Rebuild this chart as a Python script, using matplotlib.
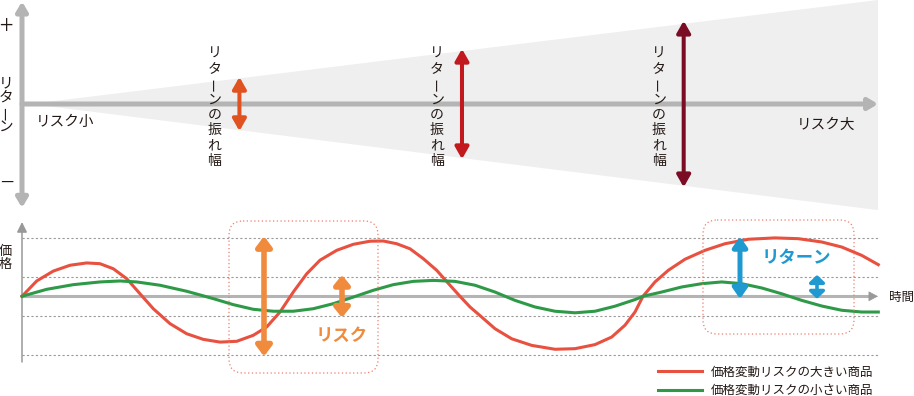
import matplotlib
matplotlib.use("Agg")
import matplotlib.pyplot as plt
from matplotlib.patches import FancyBboxPatch

plt.rcParams['font.family'] = ['Noto Sans CJK JP', 'DejaVu Sans']

# ---- top panel: risk vs. swing of return ----
risk_levels = [0.254, 0.514, 0.773]
return_swing = [0.26, 0.53, 0.80]
swing_colors = ['#e0521f', '#c1191d', '#7a0c24']
swing_label = 'リターンの振れ幅'

# ---- bottom panel: price over time ----
red_t = [0, 14.7, 31.3, 48, 64.7, 78, 91.3, 104.7, 118, 131.3, 148, 164.7,
         181.3, 198, 214.7, 231.3, 244.7, 258, 271.3, 284.7, 298, 314.7,
         331.3, 348, 361.3, 374.7, 388, 401.3, 414.7, 428, 438, 448, 459.7,
         473, 489.7, 509.7, 533, 553, 573, 589.7, 603, 613, 621, 633, 646.3,
         663, 683, 703, 726.3, 753, 776.3, 799.7, 819.7, 839.7, 856.3]
red_p = [0, 0.79, 1.30, 1.60, 1.72, 1.68, 1.42, 0.91, 0.13, -0.64, -1.41,
         -1.93, -2.22, -2.36, -2.32, -2.01, -1.58, -0.81, 0.22, 1.16, 1.86,
         2.37, 2.68, 2.84, 2.85, 2.71, 2.45, 1.94, 1.34, 0.57, 0.0, -0.55,
         -1.07, -1.67, -2.19, -2.53, -2.73, -2.70, -2.49, -2.10, -1.49, -0.81,
         0.0, 0.74, 1.34, 1.91, 2.37, 2.71, 2.94, 3.01, 2.97, 2.80, 2.54,
         2.11, 1.63]
green_t = [0, 24.7, 51.3, 78, 98, 114.7, 138, 164.7, 191.3, 211.3, 231.3,
           251.3, 271.3, 291.3, 311.3, 331.3, 351.3, 371.3, 391.3, 411.3, 433,
           453, 473, 493, 513, 533, 553, 573, 593, 613, 621, 639.7, 659.7,
           679.7, 699.7, 719.7, 739.7, 759.7, 779.7, 799.7, 819.7, 839.7,
           856.3]
green_p = [0, 0.36, 0.60, 0.74, 0.79, 0.74, 0.57, 0.26, -0.12, -0.43, -0.67,
           -0.77, -0.77, -0.64, -0.38, -0.04, 0.31, 0.60, 0.77, 0.82, 0.77,
           0.57, 0.22, -0.21, -0.55, -0.77, -0.85, -0.77, -0.51, -0.17, 0.0,
           0.22, 0.48, 0.65, 0.74, 0.65, 0.43, 0.13, -0.21, -0.50, -0.72,
           -0.81, -0.81]
grid_levels = [-3, -1, 1, 3]
legend_labels = ['価格変動リスクの大きい商品', '価格変動リスクの小さい商品']

# risk arrows (time, low, high) and return arrows (time, low, high)
risk_arrows = [(242, -3.1, 3.1), (320, -1.1, 1.1)]
return_arrows = [(718, -0.13, 3.08), (795, -0.13, 1.1)]

RED = '#e8503f'
GREEN = '#2e9a47'
ORANGE = '#f08a3d'
BLUE = '#1f9ad1'
AXIS_GRAY = '#b4b4b4'
TEXT = '#231815'

# layout in pixels
W, H = 914, 396
X0, X1 = 22, 878
TOP_Y = 104
TOP_UNIT = 104
BOT_Y = 296.3
BOT_UNIT = 19.4

fig = plt.figure(figsize=(W / 100, H / 100), dpi=100)

ax_top = fig.add_axes([0, 0, 1, 1])
ax_top.set_xlim(-X0 / (X1 - X0), (W - X0) / (X1 - X0))
ax_top.set_ylim(-(H - TOP_Y) / TOP_UNIT, TOP_Y / TOP_UNIT)
ax_top.axis('off')

ax_bot = fig.add_axes([0, 0, 1, 1])
ax_bot.set_xlim(-X0, W - X0)
ax_bot.set_ylim(-(H - BOT_Y) / BOT_UNIT, BOT_Y / BOT_UNIT)
ax_bot.axis('off')
ax_bot.patch.set_visible(False)

ax_px = fig.add_axes([0, 0, 1, 1])
ax_px.set_xlim(0, W)
ax_px.set_ylim(H, 0)
ax_px.axis('off')
ax_px.patch.set_visible(False)


def double_arrow(ax, x, y0, y1, color, lw, hl, hw, style='<|-|>', z=5):
    ax.annotate('', xy=(x, y1), xytext=(x, y0),
                arrowprops=dict(arrowstyle=f'{style},head_length={hl},head_width={hw}',
                                color=color, lw=lw, shrinkA=0, shrinkB=0,
                                mutation_scale=10),
                zorder=z)


def vertical_text(ax, x, y_first, step, s, **kw):
    for i, ch in enumerate(s):
        ax.text(x, y_first + i * step, ch, ha='center', va='center',
                rotation=90 if ch == 'ー' else 0, **kw)


# ---------------- top panel ----------------
ax_top.fill([0.01, 1, 1], [0, 1, -1.02], color='#efefef', lw=0, zorder=1)
double_arrow(ax_top, 0, -0.998, 0.985, AXIS_GRAY, 3.6, 0.55, 0.33, z=2)
ax_top.annotate('', xy=(1.0, 0), xytext=(0, 0),
                arrowprops=dict(arrowstyle='-|>,head_length=0.55,head_width=0.33',
                                color=AXIS_GRAY, lw=3.6, shrinkA=0, shrinkB=0,
                                mutation_scale=10), zorder=2)
for r, sw, c in zip(risk_levels, return_swing, swing_colors):
    double_arrow(ax_top, r, -sw, sw, c, 2.9, 0.7, 0.4)
    vertical_text(ax_px, X0 + (X1 - X0) * r - 25, 53.5, 15.36, swing_label,
                  fontsize=10, color=TEXT, zorder=6)

ax_px.text(36, 122, 'リスク小', ha='left', va='center', fontsize=10.5, color=TEXT)
ax_px.text(797, 125, 'リスク大', ha='left', va='center', fontsize=10.5, color=TEXT)
ax_px.text(6, 27, '+', ha='center', va='center', fontsize=18, color=TEXT,
           fontweight='light')
ax_px.text(7, 184, '−', ha='center', va='center', fontsize=18, color=TEXT,
           fontweight='light')
vertical_text(ax_px, 6, 83, 14.7, 'リターン', fontsize=10.5, color=TEXT)

# ---------------- bottom panel ----------------
ax_bot.hlines(grid_levels, 0, X1 - X0, colors='#9a9a9a', lw=0.8,
              linestyles=(0, (2, 2)), zorder=1)
ax_bot.plot([0, X1 - X0 - 8], [0, 0], color=AXIS_GRAY, lw=2.2, zorder=2,
            solid_capstyle='butt')
ax_bot.annotate('', xy=(X1 - X0, 0), xytext=(X1 - X0 - 9, 0),
                arrowprops=dict(arrowstyle='-|>,head_length=0.6,head_width=0.32',
                                color='#999999', lw=0.5, shrinkA=0, shrinkB=0,
                                mutation_scale=10), zorder=2)
ax_bot.annotate('', xy=(0, (BOT_Y - 222) / BOT_UNIT), xytext=(0, -(362 - BOT_Y) / BOT_UNIT),
                arrowprops=dict(arrowstyle='-|>,head_length=0.6,head_width=0.3',
                                color='#999999', lw=1.1, shrinkA=0, shrinkB=0,
                                mutation_scale=10), zorder=2)

red_line, = ax_bot.plot(red_t, red_p, color=RED, lw=2.2, zorder=3,
                        solid_joinstyle='round', label=legend_labels[0])
green_line, = ax_bot.plot(green_t, green_p, color=GREEN, lw=2.2, zorder=3,
                          solid_joinstyle='round', label=legend_labels[1])

for (t, lo, hi), hl in zip(risk_arrows, [0.6, 0.55]):
    double_arrow(ax_bot, t, lo, hi, ORANGE, 4.0, hl, 0.45, z=6)
double_arrow(ax_bot, *return_arrows[0], BLUE, 3.6, 0.6, 0.42, z=6)
double_arrow(ax_bot, *return_arrows[1], BLUE, 2.6, 0.42, 0.45, z=6)

for (x, y, w, h) in [(229, 221, 149, 152), (703, 220, 151, 114)]:
    ax_px.add_patch(FancyBboxPatch((x, y), w, h,
                                   boxstyle='round,pad=0,rounding_size=14',
                                   fill=False, ec='#f07b6b', lw=0.9,
                                   ls=(0, (1, 2)), zorder=4))

ax_px.text(342, 335.5, 'リスク', ha='center', va='center', fontsize=12.5,
           color=ORANGE, fontweight='bold', zorder=7)
ax_px.text(796, 257.5, 'リターン', ha='center', va='center', fontsize=12.5,
           color=BLUE, fontweight='bold', zorder=7)
ax_px.text(889, 297, '時間', ha='left', va='center', fontsize=9, color=TEXT)
vertical_text(ax_px, 5, 252, 12, '価格', fontsize=9.5, color=TEXT)

fig.legend(handles=[red_line, green_line], loc='upper left',
           bbox_to_anchor=(658 / W, 1 - 365.5 / H), frameon=False,
           fontsize=9, handlelength=3.5, handletextpad=0.75,
           labelspacing=0.45, borderpad=0, borderaxespad=0,
           labelcolor=TEXT)

fig.savefig('out.png', dpi=100)
